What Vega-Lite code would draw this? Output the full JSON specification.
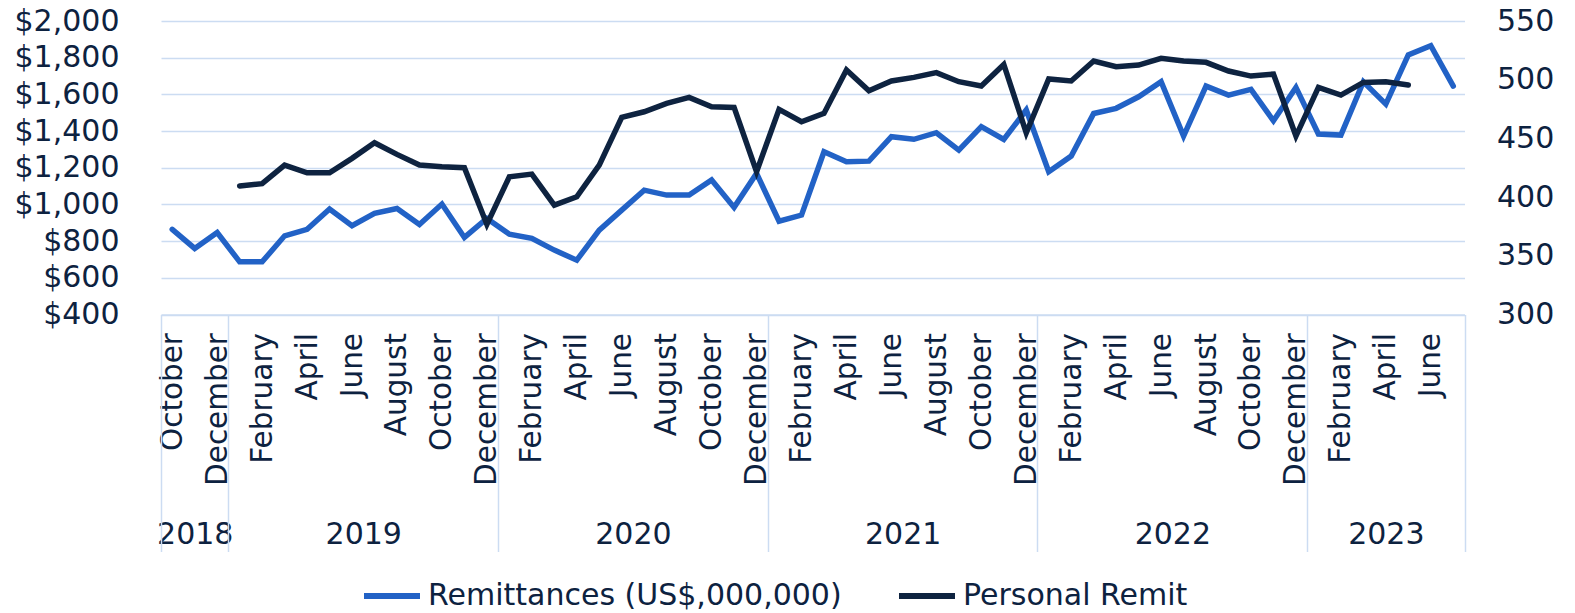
{
  "$schema": "https://vega.github.io/schema/vega-lite/v6.json",
  "width": 1303.5,
  "height": 293.5,
  "autosize": "none",
  "padding": {"left": 161, "top": 21, "right": 110.5, "bottom": 298.5},
  "background": "white",
  "config": {
    "font": "DejaVu Sans",
    "view": {"stroke": null},
    "legend": {
      "orient": "none",
      "legendX": 200,
      "legendY": 544,
      "direction": "horizontal",
      "title": null,
      "symbolType": "stroke",
      "symbolSize": 3136,
      "symbolStrokeWidth": 6,
      "labelFont": "DejaVu Sans",
      "labelFontSize": 30,
      "labelColor": "#0d2240",
      "labelOffset": 5,
      "columnPadding": 45,
      "labelLimit": 1000
    }
  },
  "data": {
    "values": [
      {"i": 0, "month": "2018-10", "remit": 864, "personal": null},
      {"i": 1, "month": "2018-11", "remit": 760, "personal": null},
      {"i": 2, "month": "2018-12", "remit": 847, "personal": null},
      {"i": 3, "month": "2019-01", "remit": 687, "personal": 409.4},
      {"i": 4, "month": "2019-02", "remit": 687, "personal": 411.4},
      {"i": 5, "month": "2019-03", "remit": 829, "personal": 427.3},
      {"i": 6, "month": "2019-04", "remit": 864, "personal": 420.7},
      {"i": 7, "month": "2019-05", "remit": 975, "personal": 420.7},
      {"i": 8, "month": "2019-06", "remit": 884, "personal": 433},
      {"i": 9, "month": "2019-07", "remit": 951, "personal": 446.3},
      {"i": 10, "month": "2019-08", "remit": 978, "personal": 436.4},
      {"i": 11, "month": "2019-09", "remit": 891, "personal": 427.3},
      {"i": 12, "month": "2019-10", "remit": 1002, "personal": 425.8},
      {"i": 13, "month": "2019-11", "remit": 820, "personal": 425},
      {"i": 14, "month": "2019-12", "remit": 924, "personal": 376.7},
      {"i": 15, "month": "2020-01", "remit": 838, "personal": 417.3},
      {"i": 16, "month": "2020-02", "remit": 815, "personal": 419.6},
      {"i": 17, "month": "2020-03", "remit": 751, "personal": 393.2},
      {"i": 18, "month": "2020-04", "remit": 696, "personal": 400.3},
      {"i": 19, "month": "2020-05", "remit": 860, "personal": 427.3},
      {"i": 20, "month": "2020-06", "remit": 969, "personal": 467.9},
      {"i": 21, "month": "2020-07", "remit": 1078, "personal": 472.7},
      {"i": 22, "month": "2020-08", "remit": 1051, "personal": 479.8},
      {"i": 23, "month": "2020-09", "remit": 1051, "personal": 484.9},
      {"i": 24, "month": "2020-10", "remit": 1133, "personal": 477},
      {"i": 25, "month": "2020-11", "remit": 984, "personal": 476.4},
      {"i": 26, "month": "2020-12", "remit": 1169, "personal": 421.6},
      {"i": 27, "month": "2021-01", "remit": 909, "personal": 474.7},
      {"i": 28, "month": "2021-02", "remit": 942, "personal": 464.2},
      {"i": 29, "month": "2021-03", "remit": 1287, "personal": 471.3},
      {"i": 30, "month": "2021-04", "remit": 1233, "personal": 508.2},
      {"i": 31, "month": "2021-05", "remit": 1236, "personal": 490.6},
      {"i": 32, "month": "2021-06", "remit": 1369, "personal": 498.9},
      {"i": 33, "month": "2021-07", "remit": 1355, "personal": 502},
      {"i": 34, "month": "2021-08", "remit": 1391, "personal": 506},
      {"i": 35, "month": "2021-09", "remit": 1296, "personal": 498.3},
      {"i": 36, "month": "2021-10", "remit": 1424, "personal": 494.6},
      {"i": 37, "month": "2021-11", "remit": 1355, "personal": 513},
      {"i": 38, "month": "2021-12", "remit": 1515, "personal": 454.8},
      {"i": 39, "month": "2022-01", "remit": 1178, "personal": 500.6},
      {"i": 40, "month": "2022-02", "remit": 1264, "personal": 498.9},
      {"i": 41, "month": "2022-03", "remit": 1496, "personal": 515.9},
      {"i": 42, "month": "2022-04", "remit": 1524, "personal": 511},
      {"i": 43, "month": "2022-05", "remit": 1587, "personal": 512.5},
      {"i": 44, "month": "2022-06", "remit": 1669, "personal": 518.2},
      {"i": 45, "month": "2022-07", "remit": 1373, "personal": 515.9},
      {"i": 46, "month": "2022-08", "remit": 1645, "personal": 514.8},
      {"i": 47, "month": "2022-09", "remit": 1596, "personal": 507.4},
      {"i": 48, "month": "2022-10", "remit": 1627, "personal": 503.1},
      {"i": 49, "month": "2022-11", "remit": 1456, "personal": 504.8},
      {"i": 50, "month": "2022-12", "remit": 1638, "personal": 452},
      {"i": 51, "month": "2023-01", "remit": 1384, "personal": 493.5},
      {"i": 52, "month": "2023-02", "remit": 1378, "personal": 486.9},
      {"i": 53, "month": "2023-03", "remit": 1669, "personal": 497.7},
      {"i": 54, "month": "2023-04", "remit": 1547, "personal": 498.3},
      {"i": 55, "month": "2023-05", "remit": 1815, "personal": 495.5},
      {"i": 56, "month": "2023-06", "remit": 1865, "personal": null},
      {"i": 57, "month": "2023-07", "remit": 1645, "personal": null}
    ]
  },
  "layer": [
    {
      "mark": {"type": "line", "strokeWidth": 5.5, "strokeCap": "round"},
      "encoding": {
        "x": {
          "field": "i", "type": "quantitative",
          "scale": {"domain": [-0.5, 57.5], "nice": false, "zero": false},
          "axis": {
            "orient": "bottom", "title": null,
            "values": [0, 2, 4, 6, 8, 10, 12, 14, 16, 18, 20, 22, 24, 26, 28, 30, 32, 34, 36, 38, 40, 42, 44, 46, 48, 50, 52, 54, 56],
            "labelExpr": "['January','February','March','April','May','June','July','August','September','October','November','December'][(datum.value + 9) % 12]",
            "labelAngle": -90, "labelFontSize": 29.5, "labelColor": "#0d2240", "labelFont": "DejaVu Sans",
            "labelPadding": 18, "labelOverlap": false, "labelBound": false, "labelFlush": false,
            "ticks": false, "grid": false,
            "domain": true, "domainColor": "#ccdcf2", "domainWidth": 1.5
          }
        },
        "y": {
          "field": "remit", "type": "quantitative",
          "scale": {"domain": [400, 2000], "nice": false, "zero": false},
          "axis": {
            "orient": "left", "title": null,
            "values": [400, 600, 800, 1000, 1200, 1400, 1600, 1800, 2000],
            "format": "$,.0f",
            "labelFontSize": 30, "labelColor": "#0d2240", "labelFont": "DejaVu Sans",
            "labelPadding": 42, "labelOverlap": false, "labelFlush": false, "labelBound": false,
            "ticks": false, "domain": false,
            "grid": true, "gridColor": "#ccdcf2", "gridWidth": 1.5
          }
        },
        "color": {
          "datum": "Remittances (US$,000,000)", "type": "nominal",
          "scale": {"domain": ["Remittances (US$,000,000)", "Personal Remit"], "range": ["#2262c6", "#0e2340"]}
        }
      }
    },
    {
      "mark": {"type": "line", "strokeWidth": 5.5, "strokeCap": "round"},
      "encoding": {
        "x": {
          "field": "i", "type": "quantitative",
          "scale": {"domain": [-0.5, 57.5], "nice": false, "zero": false},
          "axis": {
            "orient": "bottom", "title": null,
            "values": [1, 8.5, 20.5, 32.5, 44.5, 54],
            "labelExpr": "'' + (2018 + floor((datum.value + 9) / 12))",
            "labelAngle": 0, "labelFontSize": 30, "labelColor": "#0d2240", "labelFont": "DejaVu Sans",
            "labelPadding": 205, "labelOverlap": false, "labelBound": false, "labelFlush": false,
            "ticks": false, "grid": false, "domain": false
          }
        },
        "y": {
          "field": "personal", "type": "quantitative",
          "scale": {"domain": [300, 550], "nice": false, "zero": false},
          "axis": {
            "orient": "right", "title": null,
            "values": [300, 350, 400, 450, 500, 550],
            "labelFontSize": 30, "labelColor": "#0d2240", "labelFont": "DejaVu Sans",
            "labelPadding": 32, "labelOverlap": false, "labelFlush": false, "labelBound": false,
            "ticks": false, "domain": false, "grid": false
          }
        },
        "color": {
          "datum": "Personal Remit", "type": "nominal",
          "scale": {"domain": ["Remittances (US$,000,000)", "Personal Remit"], "range": ["#2262c6", "#0e2340"]}
        }
      }
    },
    {
      "data": {"values": [{"sep": -0.5}, {"sep": 2.5}, {"sep": 14.5}, {"sep": 26.5}, {"sep": 38.5}, {"sep": 50.5}, {"sep": 57.5}]},
      "mark": {"type": "rule", "strokeOpacity": 0},
      "encoding": {
        "x": {
          "field": "sep", "type": "quantitative",
          "scale": {"domain": [-0.5, 57.5], "nice": false, "zero": false},
          "axis": {
            "orient": "bottom", "title": null,
            "values": [-0.5, 2.5, 14.5, 26.5, 38.5, 50.5, 57.5],
            "labels": false, "grid": false, "domain": false,
            "ticks": true, "tickSize": 237, "tickColor": "#ccdcf2", "tickWidth": 1.5
          }
        }
      }
    }
  ],
  "resolve": {"scale": {"y": "independent"}, "axis": {"x": "independent", "y": "independent"}}
}
